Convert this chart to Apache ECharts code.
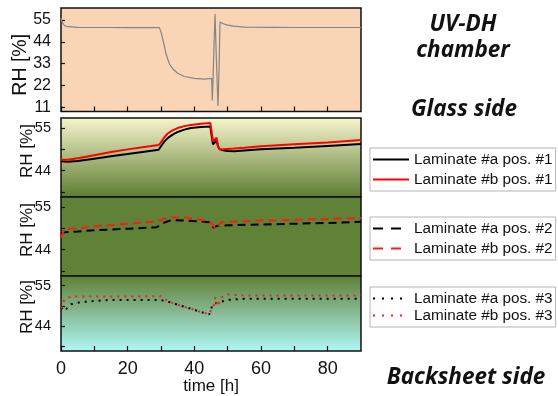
<!DOCTYPE html>
<html>
<head>
<meta charset="utf-8">
<script src="https://cdn.jsdelivr.net/npm/echarts@6/dist/echarts.min.js"></script>
<style>
html,body{margin:0;padding:0;background:#fff;}
#chart{width:558px;height:396px;}
</style>
</head>
<body>
<div id="chart"></div>
<script>
// ---- Panel 1: UV-DH chamber ----
const timeChamber = [0, 0.3, 1, 2, 5, 10, 14.7, 14.8, 15, 20, 25, 29.5, 30, 30.8, 31.5, 32.5, 33.5, 35, 37, 40, 43, 45.2, 45.4, 45.6, 45.9, 46.2, 46.6, 47.1, 47.4, 47.7, 48.5, 50, 51.8, 55, 63.8, 63.9, 64, 70, 79.8, 80, 80.2, 85, 90];
const rhChamber   = [56, 54, 52.2, 51.6, 51.3, 51.2, 51.2, 50.6, 51.2, 51.1, 51.1, 51.1, 49, 43.5, 38, 33, 30.5, 28.2, 26.6, 25.6, 25.3, 25.6, 14.5, 25, 42, 58, 36, 11.8, 30, 54, 53.2, 52.4, 51.9, 51.4, 51.3, 52.1, 51.3, 51.2, 51.2, 52, 51.2, 51.2, 51.2];

// ---- Panel 2: position #1 (glass side) ----
const time1 = [0, 2, 5, 10, 15, 20, 25, 29.3, 30, 31, 32, 33.5, 35, 37, 39, 42, 44.8, 45.2, 45.6, 46.2, 46.7, 47.1, 47.6, 48.5, 50, 52, 55, 60, 70, 80, 90];
const lamA1 = [46.4, 46.3, 46.5, 47.1, 47.7, 48.3, 48.9, 49.4, 50.3, 51.5, 52.4, 53.3, 54.0, 54.6, 55.0, 55.3, 55.4, 53.0, 50.8, 50.8, 51.8, 50.3, 49.5, 49.3, 49.1, 49.0, 49.2, 49.5, 49.9, 50.4, 50.9];
const lamB1 = [46.8, 46.8, 47.2, 48.0, 48.8, 49.5, 50.1, 50.6, 51.3, 52.6, 53.6, 54.4, 55.0, 55.5, 55.8, 56.1, 56.3, 54.0, 51.6, 51.4, 52.5, 50.2, 49.6, 49.5, 49.6, 49.7, 49.9, 50.3, 50.8, 51.3, 51.9];

// ---- Panel 3: position #2 ----
const timeA2 = [0, 1.1, 5, 10, 20, 28.7, 31, 33, 38, 44.5, 45.8, 47, 50, 60, 70, 80, 90];
const lamA2  = [48.0, 48.5, 48.7, 49.0, 49.4, 49.8, 51.0, 51.6, 51.5, 51.1, 49.7, 50.2, 50.3, 50.5, 50.7, 50.9, 51.2];
const timeB2 = [0, 1.1, 5, 10, 20, 28.7, 31, 33, 38, 42, 45.2, 46.5, 48, 50, 60, 70, 80, 90];
const lamB2  = [47.1, 49.4, 49.5, 50.0, 50.7, 51.3, 52.0, 52.3, 52.3, 51.8, 50.8, 49.4, 51.0, 51.2, 51.5, 51.7, 51.9, 52.2];

// ---- Panel 4: position #3 (backsheet side) ----
const timeA3 = [0, 1, 3, 6, 10, 15, 30, 31, 33, 36, 39, 42, 44.5, 45.5, 47, 48, 50, 55, 70, 90];
const lamA3  = [49.0, 48.1, 49.9, 50.5, 50.8, 51.1, 51.1, 50.8, 50.4, 49.5, 48.7, 47.8, 47.2, 49.9, 50.4, 50.6, 51.1, 51.4, 51.4, 51.4];
const timeB3 = [0, 1, 3, 10, 20, 30, 31, 33, 36, 39, 42, 44.5, 45.2, 45.8, 46.3, 46.9, 47.5, 48.2, 50, 55, 70, 90];
const lamB3  = [48.8, 51.2, 52.0, 52.0, 52.0, 52.1, 51.4, 50.4, 49.5, 48.7, 47.8, 47.2, 48.8, 49.5, 51.8, 49.3, 50.4, 51.8, 52.6, 52.3, 52.3, 52.3];

// ---- Axis ticks ----
const xTickLabels = [0, 20, 40, 60, 80];
const xTickMarks = [0, 10, 20, 30, 40, 50, 60, 70, 80];
const yLabelsTop = [11, 22, 33, 44, 55];
const yLabels = [44, 55];
const yTicks = [38.5, 44, 49.5, 55];

const zip = (a, b) => a.map((t, i) => [t, b[i]]);

const chart = echarts.init(document.getElementById('chart'), null, {renderer: 'canvas'});

const grad = (c0, c1) => ({type: 'linear', x: 0, y: 0, x2: 0, y2: 1,
  colorStops: [{offset: 0, color: c0}, {offset: 1, color: c1}]});

const gridBase = {left: 61, right: 197, show: true, borderColor: '#111', borderWidth: 1.5};
const font = '"Liberation Sans", Arial, sans-serif';

function xAxis(i, labels, ticks) {
  return {
    type: 'value', gridIndex: i, min: 0, max: 90,
    axisLine: {show: false},
    splitLine: {show: false},
    axisTick: {show: ticks, inside: true, length: 5, customValues: xTickMarks, lineStyle: {color: '#111', width: 1.2}},
    axisLabel: {show: labels, customValues: xTickLabels, fontSize: 18, color: '#111', fontFamily: font, margin: 9},
    name: labels ? 'time [h]' : '', nameLocation: 'middle', nameGap: 27, nameMoveOverlap: false,
    nameTextStyle: {fontSize: 17, color: '#111', fontFamily: font}
  };
}
function yAxis(i, top) {
  return {
    type: 'value', gridIndex: i,
    min: top ? 9 : 37.2, max: top ? 61 : 57.6,
    axisLine: {show: false},
    splitLine: {show: false},
    axisTick: {show: true, inside: true, length: 4, customValues: top ? yLabelsTop : yTicks, lineStyle: {color: '#111', width: 1.2}},
    axisLabel: {customValues: top ? yLabelsTop : yLabels, fontSize: top ? 16 : 14.5, color: '#111', fontFamily: font, margin: 10},
    name: 'RH [%]', nameLocation: 'middle', nameGap: top ? 30 : 25, nameRotate: 90, nameMoveOverlap: false,
    nameTextStyle: {fontSize: top ? 19.5 : 17, color: '#111', fontFamily: font,
      padding: top ? [0, 10, 0, 0] : [0, 0, 0, 13]}
  };
}

function line(name, xi, data, color, type, width) {
  return {
    name, type: 'line', xAxisIndex: xi, yAxisIndex: xi, data,
    symbol: 'none', smooth: false, animation: false,
    lineStyle: {color, width, type},
    itemStyle: {color}
  };
}

const legendBase = {
  orient: 'vertical', left: 370, selectedMode: false,
  itemWidth: 36, itemHeight: 14, itemGap: 5,
  padding: [4, 3, 4, 2],
  borderColor: '#b5b5b5', borderWidth: 1,
  itemStyle: {color: 'transparent', borderColor: 'transparent', borderWidth: 0, opacity: 0},
  textStyle: {fontSize: 15.3, color: '#111', fontFamily: font}
};

const option = {
  animation: false,
  backgroundColor: '#fff',
  grid: [
    Object.assign({}, gridBase, {top: 8, height: 103.5, backgroundColor: '#f9d5b5'}),
    Object.assign({}, gridBase, {top: 118, height: 79, backgroundColor: grad('#f8f6cd', '#5c7c32')}),
    Object.assign({}, gridBase, {top: 197, height: 79, backgroundColor: '#5f8236'}),
    Object.assign({}, gridBase, {top: 276, height: 78, backgroundColor: grad('#5e7f34', '#b0f8f8')})
  ],
  xAxis: [xAxis(0, false, true), xAxis(1, false, false), xAxis(2, false, false), xAxis(3, true, true)],
  yAxis: [yAxis(0, true), yAxis(1, false), yAxis(2, false), yAxis(3, false)],
  legend: [
    Object.assign({}, legendBase, {top: 148, data: ['Laminate #a pos. #1', 'Laminate #b pos. #1']}),
    Object.assign({}, legendBase, {top: 217, data: [
      {name: 'Laminate #a pos. #2', lineStyle: {type: [10, 8]}},
      {name: 'Laminate #b pos. #2', lineStyle: {type: [10, 8]}}]}),
    Object.assign({}, legendBase, {top: 287, itemGap: 2, data: [
      {name: 'Laminate #a pos. #3', lineStyle: {type: [2, 7]}},
      {name: 'Laminate #b pos. #3', lineStyle: {type: [2, 7]}}]})
  ],
  series: [
    line('UV-DH chamber', 0, zip(timeChamber, rhChamber), '#858585', 'solid', 1.2),
    line('Laminate #a pos. #1', 1, zip(time1, lamA1), '#000000', 'solid', 2),
    line('Laminate #b pos. #1', 1, zip(time1, lamB1), '#ff0000', 'solid', 2),
    line('Laminate #a pos. #2', 2, zip(timeA2, lamA2), '#000000', [8, 5], 2),
    line('Laminate #b pos. #2', 2, zip(timeB2, lamB2), '#ff1a1a', [8, 5], 2),
    line('Laminate #a pos. #3', 3, zip(timeA3, lamA3), '#000000', [2, 5], 2),
    line('Laminate #b pos. #3', 3, zip(timeB3, lamB3), '#ff1a1a', [2, 5], 2)
  ],
  graphic: [
    {type: 'text', style: {text: 'UV-DH', x: 463, y: 25, align: 'center', verticalAlign: 'middle', font: 'italic bold 22.5px "Open Sans"', fill: '#111'}},
    {type: 'text', style: {text: 'chamber', x: 463, y: 51, align: 'center', verticalAlign: 'middle', font: 'italic bold 22.5px "Open Sans"', fill: '#111'}},
    {type: 'text', style: {text: 'Glass side', x: 464, y: 110, align: 'center', verticalAlign: 'middle', font: 'italic bold 22.5px "Open Sans"', fill: '#111'}},
    {type: 'text', style: {text: 'Backsheet side', x: 466, y: 378, align: 'center', verticalAlign: 'middle', font: 'italic bold 22.5px "Open Sans"', fill: '#111'}}
  ]
};
chart.setOption(option);
</script>
</body>
</html>
